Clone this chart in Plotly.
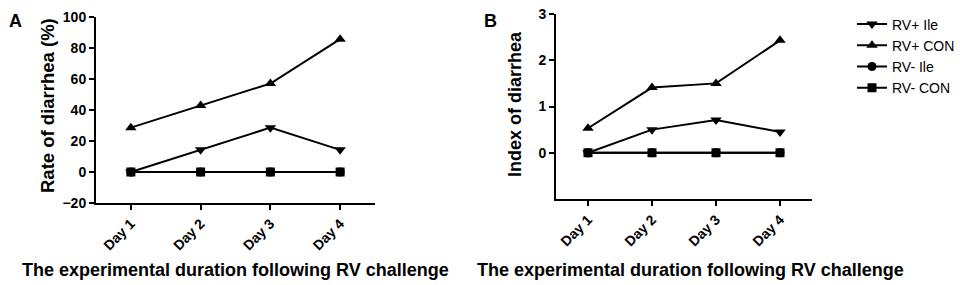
import plotly.graph_objects as go

# ---- data ----
days = ["Day 1", "Day 2", "Day 3", "Day 4"]
series_names = ["RV+ Ile", "RV+ CON", "RV- Ile", "RV- CON"]

rate_rvpos_ile = [0, 14.3, 28.6, 14.3]
rate_rvpos_con = [28.6, 42.9, 57.1, 85.7]
rate_rvneg_ile = [0, 0, 0, 0]
rate_rvneg_con = [0, 0, 0, 0]

index_rvpos_ile = [0, 0.5, 0.71, 0.45]
index_rvpos_con = [0.53, 1.41, 1.5, 2.43]
index_rvneg_ile = [0, 0, 0, 0]
index_rvneg_con = [0, 0, 0, 0]

rate_ticks = [-20, 0, 20, 40, 60, 80, 100]
index_ticks = [0, 1, 2, 3]

W, H = 965, 285
OFF = 8  # page body margin offset
FONT = "Liberation Sans, Arial, sans-serif"
symbols = ["triangle-down", "triangle-up", "circle", "square"]
msizes = [10, 10, 9, 9]

def px(x):
    return (x - OFF) / W

def py(y):
    return 1 - (y - OFF) / H

fig = go.Figure()

rate_series = [rate_rvpos_ile, rate_rvpos_con, rate_rvneg_ile, rate_rvneg_con]
index_series = [index_rvpos_ile, index_rvpos_con, index_rvneg_ile, index_rvneg_con]

for i, (name, vals) in enumerate(zip(series_names, rate_series)):
    fig.add_trace(go.Scatter(
        x=days, y=vals, name=name, mode="lines+markers",
        line=dict(color="black", width=2),
        marker=dict(symbol=symbols[i], size=msizes[i], color="black"),
        xaxis="x", yaxis="y", showlegend=True))

for i, (name, vals) in enumerate(zip(series_names, index_series)):
    fig.add_trace(go.Scatter(
        x=days, y=vals, name=name, mode="lines+markers",
        line=dict(color="black", width=2),
        marker=dict(symbol=symbols[i], size=msizes[i], color="black"),
        xaxis="x2", yaxis="y2", showlegend=False))

tickfont = dict(family=FONT, size=14, color="black", weight="bold")
axis_common = dict(showline=True, linecolor="black", linewidth=2,
                   ticks="outside", ticklen=5, tickwidth=2, tickcolor="black",
                   showgrid=False, zeroline=False, tickfont=tickfont,
                   automargin=False, ticklabeloverflow="allow")

fig.update_layout(
    width=W, height=H,
    margin=dict(l=0, r=0, t=0, b=0, autoexpand=False),
    paper_bgcolor="white", plot_bgcolor="white",
    xaxis=dict(domain=[px(96), px(375)], anchor="y", type="category",
               range=[-0.5, 3.5], tickangle=-45, **axis_common),
    yaxis=dict(domain=[py(203), py(17)], anchor="x", range=[-20, 100],
               tickvals=rate_ticks, **axis_common),
    xaxis2=dict(domain=[px(556), px(812)], anchor="y2", type="category",
                range=[-0.5, 3.5], tickangle=-45, **axis_common),
    yaxis2=dict(domain=[py(199), py(14)], anchor="x2", range=[-1, 3],
                tickvals=index_ticks, **axis_common),
    legend=dict(x=px(852), y=py(56), xanchor="left", yanchor="middle",
                font=dict(family=FONT, size=14, color="black"),
                tracegroupgap=0, bgcolor="rgba(0,0,0,0)"),
    showlegend=True,
)

def note(text, x, y, size, angle=0, yanchor="middle"):
    return dict(text=text, x=px(x), y=py(y), xref="paper", yref="paper",
                xanchor="center", yanchor=yanchor, showarrow=False,
                textangle=angle, font=dict(family=FONT, size=size, color="black"))

ann = [
    note("<b>A</b>", 15, 8.5, 18, yanchor="top"),
    note("<b>B</b>", 490, 8.5, 18, yanchor="top"),
    note("<b>Rate of diarrhea (%)</b>", 48, 106, 18.5, -90),
    note("<b>Index of diarrhea</b>", 515, 104, 18, -90),
    note("<b>The experimental duration following RV challenge</b>", 235, 270, 18),
    note("<b>The experimental duration following RV challenge</b>", 690, 270, 18),
]
fig.update_layout(annotations=ann)

fig.write_html("out.html")
